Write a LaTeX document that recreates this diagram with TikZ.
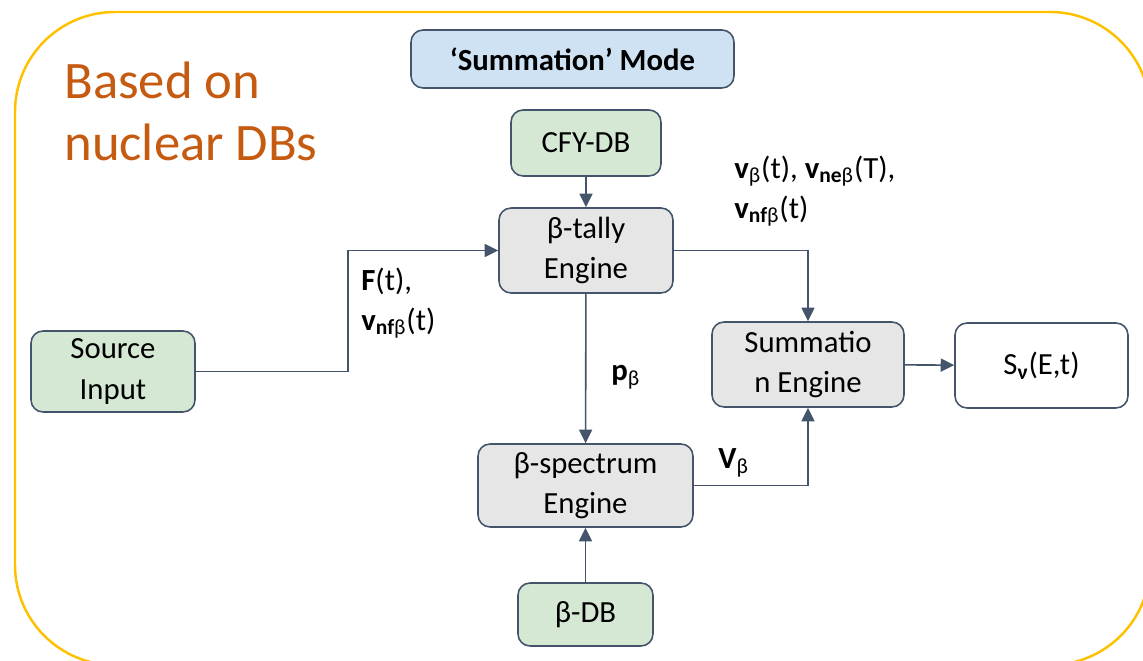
\documentclass[tikz,border=0pt]{standalone}
\usepackage{fontspec}
\setmainfont{Carlito}
\usepackage{xcolor}
\usepackage{tikz}
\usetikzlibrary{arrows.meta, positioning}
\definecolor{figedge}{RGB}{68,84,106}
\definecolor{figgreen}{RGB}{213,232,212}
\definecolor{figgray}{RGB}{230,230,230}
\definecolor{figblue}{RGB}{207,226,243}
\definecolor{figorange}{RGB}{197,90,17}
\definecolor{figyellow}{RGB}{255,192,0}
\tikzstyle{basebox} = [rectangle, rounded corners=0.24cm,
draw=figedge, line width=0.9pt, align=center, inner sep=2pt,
font=\fontsize{17.5}{22.8}\selectfont]
\tikzstyle{dbbox} = [basebox, fill=figgreen]
\tikzstyle{enginebox} = [basebox, fill=figgray]
\tikzstyle{modebox} = [basebox, fill=figblue, font=\fontsize{17.5}{22.8}\selectfont\bfseries]
\tikzstyle{outbox} = [basebox, fill=white]
\tikzstyle{flowlabel} = [align=left, inner sep=0pt, anchor=west,
font=\fontsize{17.5}{22.8}\selectfont]
\tikzstyle{arrow} = [-{Triangle[length=0.27cm, width=0.26cm]}, line width=0.9pt, draw=figedge]
\newcommand{\vb}{\textbf{v}}

\begin{document}
\begin{tikzpicture}[x=0.02cm, y=-0.02cm]
    \useasboundingbox (0,0) rectangle (1143,661);
    \clip (0,0) rectangle (1143,661);
    % frame
    \draw[figyellow, line width=1.4pt, rounded corners=2cm] (15,12) rectangle (1150,665);
    \node (note) [anchor=north west, align=left, inner sep=0pt, text=figorange,
    font=\fontsize{30}{35.3}\selectfont] at (64,62) {Based on\\nuclear DBs};

    \node (mode) [modebox, minimum width=6.46cm, minimum height=1.16cm] at (572.5,59) {‘Summation’ Mode};
    \node (cfy)   [dbbox, minimum width=3.0cm, minimum height=1.32cm] at (586,143) {CFY-DB};
    \node (tally) [enginebox, minimum width=3.48cm, minimum height=1.7cm] at (586,250.5) {β-tally\\Engine};
    \node (src)   [dbbox, minimum width=3.28cm, minimum height=1.62cm] at (113,371.5) {Source\\Input};
    \node (sumeng) [enginebox, minimum width=3.84cm, minimum height=1.7cm] at (808,364.5) {Summatio\\n Engine};
    \node (snu)   [outbox, minimum width=3.46cm, minimum height=1.7cm] at (1041.5,365.5) {S\textsubscript{\textbf{ν}}(E,t)};
    \node (spec)  [enginebox, minimum width=4.3cm, minimum height=1.66cm] at (585.5,485.5) {β-spectrum\\Engine};
    \node (bdb)   [dbbox, minimum width=2.7cm, minimum height=1.26cm] at (585.5,614.5) {β-DB};

    \node (lbsrc)  [flowlabel] at (361,303) {\textbf{F}(t),\\\vb\textsubscript{\textbf{nf}β}(t)};
    \node (lbtally) [flowlabel] at (734,191) {\vb\textsubscript{β}(t), \vb\textsubscript{\textbf{ne}β}(T),\\\vb\textsubscript{\textbf{nf}β}(t)};
    \node (lbp)    [flowlabel] at (611,377) {\textbf{p}\textsubscript{β}};
    \node (lbv)    [flowlabel] at (718,463) {\textbf{V}\textsubscript{β}};

    \draw[arrow] (cfy) -- (tally);
    \draw[arrow] (src.east) -- ++(152,0) |- (tally.west);
    \draw[arrow] (tally.east) -| (sumeng.north);
    \draw[arrow] (tally) -- (spec);
    \draw[arrow] (spec.east) -| (sumeng.south);
    \draw[arrow] (sumeng) -- (snu);
    \draw[arrow] (bdb) -- (spec);
\end{tikzpicture}
\end{document}
